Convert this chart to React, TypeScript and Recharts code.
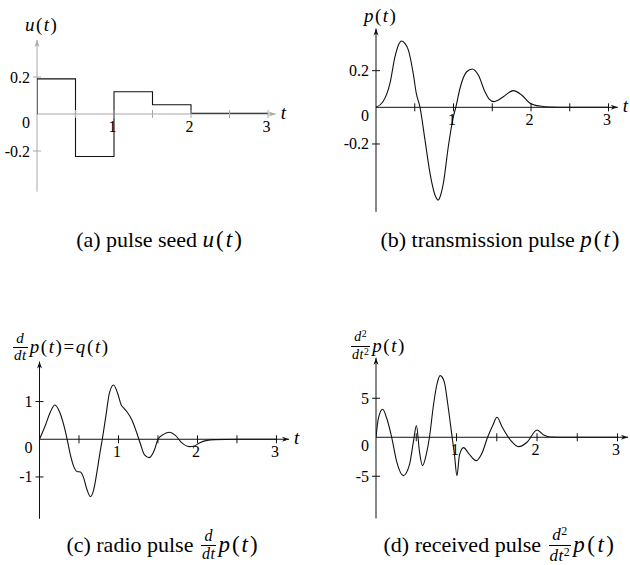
import React from 'react';
import { LineChart, Line, XAxis, YAxis, ReferenceLine, ReferenceDot } from 'recharts';

const FONT = '"Liberation Serif", "Times New Roman", Times, serif';

// shared x ticks
const xTickValues = [0.5, 1, 1.5, 2, 2.5, 3];
const xTickLabels = ['', '1', '', '2', '', '3'];

// (a) pulse seed u(t)
const tA = [0, 0, 0.5, 1.0, 1.5, 2.0, 3.0];
const uA = [0, 0.19, -0.23, 0.12, 0.05, 0.004, 0.004];
const yTicksA = [0.2, -0.2];
const yLabelsA = ['0.2', '-0.2'];

// (b) transmission pulse p(t)
const tB = [0, 0.09, 0.18, 0.245, 0.29, 0.33, 0.37, 0.417, 0.48, 0.52, 0.568, 0.632, 0.697, 0.761, 0.804, 0.84, 0.869, 0.933, 0.998, 1.03, 1.084, 1.17, 1.243, 1.32, 1.406, 1.46, 1.523, 1.58, 1.643, 1.772, 1.88, 1.987, 2.05, 2.116, 2.24, 2.5, 3.0];
const pB = [0, 0.03, 0.13, 0.276, 0.34, 0.362, 0.35, 0.313, 0.185, 0.076, 0, -0.178, -0.36, -0.478, -0.506, -0.47, -0.415, -0.215, -0.051, 0, 0.104, 0.194, 0.209, 0.176, 0.085, 0.045, 0.031, 0.04, 0.058, 0.091, 0.067, 0.022, 0.012, 0.007, 0.002, 0.0005, 0];
const yTicksB = [0.2, -0.2];
const yLabelsB = ['0.2', '-0.2'];

// (c) radio pulse q(t) = d/dt p(t)
const tC = [0, 0.076, 0.139, 0.194, 0.253, 0.307, 0.35, 0.391, 0.433, 0.476, 0.518, 0.56, 0.602, 0.644, 0.686, 0.728, 0.77, 0.795, 0.842, 0.884, 0.938, 0.989, 1.035, 1.07, 1.107, 1.17, 1.233, 1.275, 1.33, 1.389, 1.456, 1.5, 1.57, 1.646, 1.717, 1.8, 1.894, 1.96, 2.03, 2.12, 2.22, 2.5, 3.0];
const qC = [0, 0.38, 0.73, 0.91, 0.73, 0.38, 0, -0.415, -0.72, -0.857, -0.87, -1.03, -1.34, -1.52, -1.34, -0.857, -0.3, 0, 0.64, 1.22, 1.44, 1.22, 0.91, 0.82, 0.73, 0.51, 0.16, -0.106, -0.415, -0.487, -0.28, 0, 0.13, 0.185, 0.11, -0.09, -0.196, -0.18, -0.09, -0.03, -0.01, 0, 0];
const yTicksC = [1, -1];
const yLabelsC = ['1', '-1'];

// (d) received pulse d²/dt² p(t)
const tD = [0, 0.03, 0.083, 0.133, 0.195, 0.257, 0.34, 0.415, 0.465, 0.502, 0.54, 0.577, 0.623, 0.664, 0.714, 0.755, 0.797, 0.847, 0.893, 0.942, 0.975, 1.005, 1.037, 1.087, 1.15, 1.245, 1.316, 1.386, 1.453, 1.503, 1.565, 1.669, 1.772, 1.876, 2.0, 2.083, 2.17, 2.4, 3.0];
const rD = [0, 2.44, 3.59, 2.44, 0, -3.13, -4.92, -3.55, -0.56, 1.49, -1.84, -3.64, -2.27, 0, 4.14, 6.7, 7.9, 7.13, 4.14, 0.3, -2.27, -4.92, -2.27, -1.33, -2.05, -3.0, -2.05, 0, 1.58, 2.56, 1.36, -0.35, -1.2, -0.64, 0.94, 0.3, 0.03, 0, 0];
const yTicksD = [5, -5];
const yLabelsD = ['5', '-5'];

type Pt = { t: number; v: number };
const zip = (ts: number[], vs: number[]): Pt[] => ts.map((t, i) => ({ t, v: vs[i] }));

const dataA = zip(tA, uA);
const dataB = zip(tB, pB);
const dataC = zip(tC, qC);
const dataD = zip(tD, rD);

type PanelProps = {
  left: number;
  top: number;
  width: number;
  height: number;
  margin: { left: number; right: number; top: number; bottom: number };
  data: Pt[];
  xMax: number;
  yMin: number;
  yMax: number;
  yTicks: number[];
  yLabels: string[];
  axisColor: string;
  curve: any;
  showT: boolean;
};

function Panel(props: PanelProps) {
  const { left, top, width, height, margin, data, xMax, yMin, yMax, yTicks, yLabels, axisColor, curve, showT } = props;
  return (
    <div style={{ position: 'absolute', left, top, width, height }}>
      <LineChart width={width} height={height} data={data} margin={margin}>
        <XAxis type="number" dataKey="t" domain={[0, xMax]} allowDataOverflow hide />
        <YAxis type="number" domain={[yMin, yMax]} allowDataOverflow hide />
        <ReferenceLine x={0} stroke={axisColor} strokeWidth={1} />
        <ReferenceLine y={0} stroke={axisColor} strokeWidth={1} />
        {xTickValues.map((t, i) => (
          <ReferenceDot
            key={'xt' + i}
            x={t}
            y={0}
            shape={(p: any) => (
              <g>
                <line x1={p.cx} x2={p.cx} y1={p.cy - 4} y2={p.cy + 4} stroke={axisColor} strokeWidth={1} />
                {xTickLabels[i] ? (
                  <text x={p.cx - 1.5} y={p.cy + 18} textAnchor="middle" fontSize={16} fontFamily={FONT} fill="#000">
                    {xTickLabels[i]}
                  </text>
                ) : null}
              </g>
            )}
          />
        ))}
        {yTicks.map((v, i) => (
          <ReferenceDot
            key={'yt' + i}
            x={0}
            y={v}
            shape={(p: any) => (
              <g>
                <line x1={p.cx - 4} x2={p.cx + 4} y1={p.cy} y2={p.cy} stroke={axisColor} strokeWidth={1} />
                <text x={p.cx - 7} y={p.cy + 5.5} textAnchor="end" fontSize={16} fontFamily={FONT} fill="#000">
                  {yLabels[i]}
                </text>
              </g>
            )}
          />
        ))}
        <ReferenceDot
          x={0}
          y={0}
          shape={(p: any) => (
            <text x={p.cx - 7} y={p.cy + 13.5} textAnchor="end" fontSize={16} fontFamily={FONT} fill="#000">
              0
            </text>
          )}
        />
        <ReferenceDot
          x={xMax}
          y={0}
          shape={(p: any) => (
            <g>
              <path
                d={`M${p.cx},${p.cy} L${p.cx - 7},${p.cy - 2.5} L${p.cx - 5},${p.cy} L${p.cx - 7},${p.cy + 2.5} Z`}
                fill={axisColor}
                stroke="none"
              />
              {showT ? (
                <text x={p.cx + 5} y={p.cy + 5} fontSize={19} fontStyle="italic" fontFamily={FONT} fill="#000">
                  t
                </text>
              ) : null}
            </g>
          )}
        />
        <ReferenceDot
          x={0}
          y={yMax}
          shape={(p: any) => (
            <path
              d={`M${p.cx},${p.cy} L${p.cx - 2.5},${p.cy + 7} L${p.cx},${p.cy + 5} L${p.cx + 2.5},${p.cy + 7} Z`}
              fill={axisColor}
              stroke="none"
            />
          )}
        />
        <Line type={curve} dataKey="v" stroke="#111" strokeWidth={1.1} dot={false} isAnimationActive={false} />
      </LineChart>
    </div>
  );
}

const I = ({ children }: { children: React.ReactNode }) => <span style={{ fontStyle: 'italic' }}>{children}</span>;

function Frac({ num, den, size }: { num: React.ReactNode; den: React.ReactNode; size: number }) {
  return (
    <span
      style={{
        display: 'inline-flex',
        flexDirection: 'column',
        alignItems: 'center',
        fontSize: size,
        lineHeight: 1.05,
        fontStyle: 'italic',
        margin: '0 2px',
        letterSpacing: 0.5,
      }}
    >
      <span style={{ padding: '0 1px' }}>{num}</span>
      <span style={{ borderTop: '1px solid #000', padding: '0 1px' }}>{den}</span>
    </span>
  );
}

const Sup = ({ children }: { children: React.ReactNode }) => (
  <span style={{ fontSize: '0.7em', fontStyle: 'normal', verticalAlign: '0.45em' }}>{children}</span>
);

function Math({ children, size, spacing }: { children: React.ReactNode; size: number; spacing: number }) {
  return <span style={{ fontSize: size, letterSpacing: spacing, whiteSpace: 'nowrap' }}>{children}</span>;
}

function Caption({ cx, cy, children }: { cx: number; cy: number; children: React.ReactNode }) {
  return (
    <div
      style={{
        position: 'absolute',
        left: cx - 160,
        top: cy - 18,
        width: 320,
        height: 36,
        display: 'flex',
        alignItems: 'center',
        justifyContent: 'center',
        fontFamily: FONT,
        fontSize: 22,
        color: '#000',
        whiteSpace: 'pre',
      }}
    >
      {children}
    </div>
  );
}

function Title({ x, cy, children }: { x: number; cy: number; children: React.ReactNode }) {
  return (
    <div
      style={{
        position: 'absolute',
        left: x,
        top: cy - 18,
        height: 36,
        display: 'flex',
        alignItems: 'center',
        fontFamily: FONT,
        fontSize: 19,
        color: '#000',
        whiteSpace: 'pre',
      }}
    >
      {children}
    </div>
  );
}

export default function App() {
  return (
    <div
      style={{
        position: 'absolute',
        left: 0,
        top: 0,
        width: 630,
        height: 565,
        background: '#fff',
        overflow: 'hidden',
        fontFamily: FONT,
      }}
    >
      <Panel
        left={0}
        top={0}
        width={315}
        height={230}
        margin={{ left: 37, right: 39.3, top: 40, bottom: 38.3 }}
        data={dataA}
        xMax={3.1}
        yMin={-0.42}
        yMax={0.4}
        yTicks={yTicksA}
        yLabels={yLabelsA}
        axisColor="#a8a8a8"
        curve="stepAfter"
        showT={true}
      />
      <Panel
        left={315}
        top={0}
        width={315}
        height={230}
        margin={{ left: 61, right: 12.2, top: 28.5, bottom: 18.2 }}
        data={dataB}
        xMax={3.12}
        yMin={-0.57}
        yMax={0.43}
        yTicks={yTicksB}
        yLabels={yLabelsB}
        axisColor="#111"
        curve="monotone"
        showT={true}
      />
      <Panel
        left={0}
        top={290}
        width={315}
        height={275}
        margin={{ left: 39.5, right: 25.9, top: 71.6, bottom: 46.2 }}
        data={dataC}
        xMax={3.16}
        yMin={-2.11}
        yMax={2.06}
        yTicks={yTicksC}
        yLabels={yLabelsC}
        axisColor="#111"
        curve="monotone"
        showT={true}
      />
      <Panel
        left={315}
        top={290}
        width={315}
        height={275}
        margin={{ left: 61, right: 2, top: 67.7, bottom: 46.6 }}
        data={dataD}
        xMax={3.13}
        yMin={-10.4}
        yMax={10.2}
        yTicks={yTicksD}
        yLabels={yLabelsD}
        axisColor="#111"
        curve="monotone"
        showT={false}
      />

      <Title x={25} cy={25}>
        <Math size={19} spacing={1.5}>
          <I>u</I>(<I>t</I>)
        </Math>
      </Title>
      <Title x={364} cy={16}>
        <Math size={19} spacing={1.5}>
          <I>p</I>(<I>t</I>)
        </Math>
      </Title>
      <Title x={11} cy={347}>
        <Frac num="d" den="dt" size={15} />
        <Math size={19} spacing={1.6}>
          <I>p</I>(<I>t</I>)=<I>q</I>(<I>t</I>)
        </Math>
      </Title>
      <Title x={349} cy={346}>
        <Frac
          num={
            <>
              d<Sup>2</Sup>
            </>
          }
          den={
            <>
              dt<Sup>2</Sup>
            </>
          }
          size={14}
        />
        <Math size={19} spacing={1.5}>
          <I>p</I>(<I>t</I>)
        </Math>
      </Title>

      <Caption cx={160} cy={240}>
        {'(a) pulse seed '}
        <Math size={23} spacing={2}>
          <I>u</I>(<I>t</I>)
        </Math>
      </Caption>
      <Caption cx={501} cy={240}>
        {'(b) transmission pulse '}
        <Math size={23} spacing={2}>
          <I>p</I>(<I>t</I>)
        </Math>
      </Caption>
      <Caption cx={163} cy={545}>
        {'(c) radio pulse '}
        <Frac num="d" den="dt" size={16} />
        <Math size={23} spacing={2}>
          <I>p</I>(<I>t</I>)
        </Math>
      </Caption>
      <Caption cx={500} cy={545}>
        {'(d) received pulse '}
        <Frac
          num={
            <>
              d<Sup>2</Sup>
            </>
          }
          den={
            <>
              dt<Sup>2</Sup>
            </>
          }
          size={17}
        />
        <Math size={23} spacing={2.5}>
          <I>p</I>(<I>t</I>)
        </Math>
      </Caption>
    </div>
  );
}
